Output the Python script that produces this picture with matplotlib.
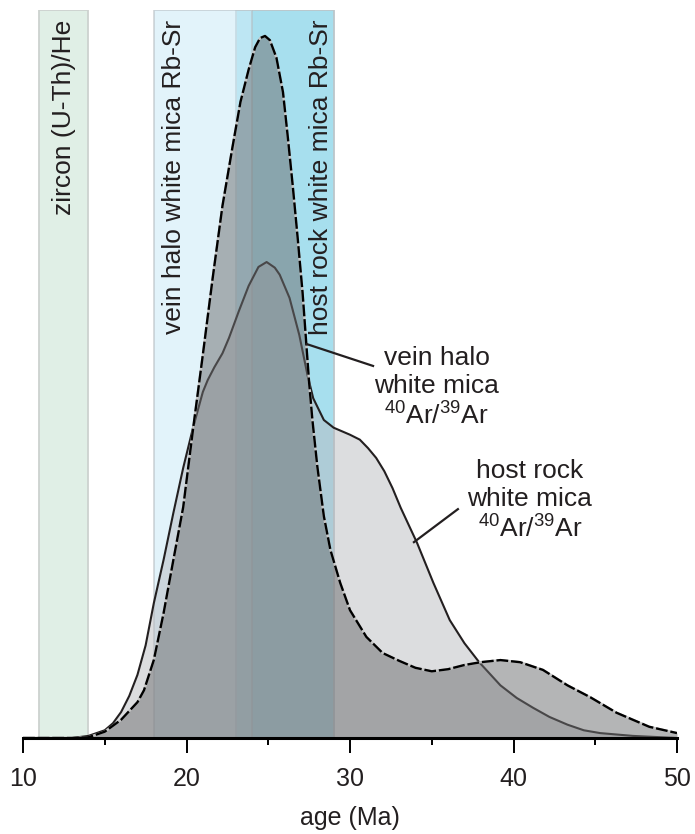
import matplotlib
matplotlib.use("Agg")
import matplotlib.pyplot as plt

plt.rcParams['font.family'] = ['Liberation Sans', 'DejaVu Sans']
plt.rcParams['mathtext.fontset'] = 'custom'
plt.rcParams['mathtext.rm'] = 'Liberation Sans'
plt.rcParams['mathtext.it'] = 'Liberation Sans:italic'
plt.rcParams['mathtext.bf'] = 'Liberation Sans:bold'

# age ranges of the dating methods (Ma)
zircon_range = [11, 14]
vein_rbsr_range = [18, 24]
host_rbsr_range = [23, 29]

# vein halo white mica 40Ar/39Ar probability curve
vein_age = [10.0, 13.0, 14.0, 15.0, 16.0, 17.0, 17.4, 18.0, 18.6, 19.2, 19.8,
            20.4, 21.0, 21.6, 22.2, 22.8, 23.3, 23.8, 24.2, 24.5, 24.8, 25.1,
            25.5, 25.9, 26.2, 26.5, 26.8, 27.1, 27.3, 27.5, 27.7, 28.0, 28.4,
            28.8, 29.4, 30.0, 31.0, 32.0, 33.0, 34.0, 35.0, 36.0, 37.0, 38.0,
            39.2, 40.4, 41.8, 43.3, 44.7, 46.3, 48.3, 50.0]
vein_prob = [0, 0, 0.1, 0.9, 2.6, 5.1, 6.8, 11.1, 17.8, 25.4, 32.9,
             44.0, 54.6, 65.5, 75.8, 84.0, 90.6, 95.2, 98.4, 99.7, 100.0, 99.4,
             96.9, 92.0, 85.5, 78.6, 71.2, 63.4, 57.0, 50.6, 45.3, 38.7, 31.6,
             26.8, 22.1, 18.2, 14.4, 12.1, 11.0, 10.0, 9.5, 9.8, 10.4, 10.8,
             11.1, 10.8, 9.7, 7.5, 5.8, 3.6, 1.6, 0.7]

# host rock white mica 40Ar/39Ar probability curve
host_age = [10.0, 13.0, 14.0, 15.0, 15.5, 16.0, 16.5, 17.0, 17.5, 18.0, 18.6,
            19.2, 19.8, 20.4, 20.8, 21.0, 21.3, 21.7, 22.2, 22.6, 23.2, 23.8,
            24.4, 24.9, 25.4, 25.7, 26.3, 26.9, 27.4, 27.75, 28.4, 29.0, 29.5,
            30.0, 30.6, 31.1, 31.6, 32.1, 32.6, 33.1, 34.1, 35.1, 36.1, 37.0,
            37.9, 39.2, 40.2, 41.2, 42.2, 43.3, 44.3, 45.3, 47.3, 50.0]
host_prob = [0, 0, 0.3, 1.1, 2.1, 3.7, 6.0, 9.0, 13.2, 19.2, 25.4,
             32.1, 38.5, 44.2, 47.6, 49.3, 51.0, 52.8, 54.8, 57.0, 60.8, 64.4,
             67.1, 67.8, 67.0, 66.0, 62.7, 57.4, 51.7, 48.4, 45.3, 44.2, 43.7,
             43.2, 42.5, 41.3, 39.9, 38.0, 35.6, 32.8, 27.8, 22.1, 16.8, 13.5,
             10.8, 7.5, 5.7, 4.3, 3.0, 1.9, 1.1, 0.7, 0.3, 0]

xticks = [10, 20, 30, 40, 50]
minor_xticks = [15, 25, 35, 45]

txt = '#231f20'

fig = plt.figure(figsize=(6.95, 8.34), dpi=100)
ax = fig.add_axes([0.0331, 0.1151, 0.941, 0.8729])

# dating method bands
ax.axvspan(*zircon_range, facecolor='#e0efe6', edgecolor='#cdd2cf', lw=1.3, zorder=0)
ax.axvspan(*host_rbsr_range, facecolor='#a7dfee', edgecolor='#bcc6ca', lw=1.3, zorder=0)
ax.axvspan(*vein_rbsr_range, facecolor='#ceecf8', alpha=0.59, edgecolor='#b5bcc0',
           lw=1.3, zorder=0.5)

# host rock curve
ax.fill_between(host_age, host_prob, 0, color='#b6b8be', alpha=0.48, lw=0, zorder=2)
ax.plot(host_age, host_prob, color=txt, lw=1.5, zorder=3)

# vein halo curve (dashed)
ax.fill_between(vein_age, vein_prob, 0, color='#6d6e70', alpha=0.51, lw=0, zorder=4)
ax.plot(vein_age, vein_prob, color='#c4c4c4', lw=1.7, zorder=5)
ax.plot(vein_age, vein_prob, color='black', lw=1.7, dashes=[5, 1.2], zorder=6)

# band labels
ax.text(12.5, 102.3, 'zircon (U-Th)/He', rotation=90, ha='center', va='top',
        fontsize=19, color=txt, zorder=7)
ax.text(19.25, 102.3, 'vein halo white mica Rb-Sr', rotation=90, ha='center', va='top',
        fontsize=19, color=txt, zorder=7)
ax.text(28.2, 102.3, 'host rock white mica Rb-Sr', rotation=90, ha='center', va='top',
        fontsize=19, color=txt, zorder=7)

# curve labels with leader lines
ax.text(35.3, 49.9, 'vein halo\nwhite mica\n$^{40}$Ar/$^{39}$Ar', ha='center', va='center',
        fontsize=19, color=txt, linespacing=1.2, zorder=7)
ax.plot([27.37, 31.41], [56.1, 53.0], color=txt, lw=1.6, zorder=7)
ax.text(41.0, 33.8, 'host rock\nwhite mica\n$^{40}$Ar/$^{39}$Ar', ha='center', va='center',
        fontsize=19, color=txt, linespacing=1.2, zorder=7)
ax.plot([33.91, 36.6], [27.9, 32.6], color=txt, lw=1.6, zorder=7)

ax.set_xlim(10, 50)
ax.set_ylim(0, 103.7)
ax.set_xticks(xticks)
ax.set_xticks(minor_xticks, minor=True)
ax.set_yticks([])
for side in ['left', 'right', 'top']:
    ax.spines[side].set_visible(False)
ax.spines['bottom'].set_linewidth(2.2)
ax.spines['bottom'].set_zorder(8)
ax.tick_params(axis='x', which='major', length=11, width=1.4, pad=10,
               labelsize=18, labelcolor=txt)
ax.tick_params(axis='x', which='minor', length=5, width=1.4)
ax.set_xlabel('age (Ma)', fontsize=18, color=txt, labelpad=11)

fig.savefig('out.png', dpi=100)
